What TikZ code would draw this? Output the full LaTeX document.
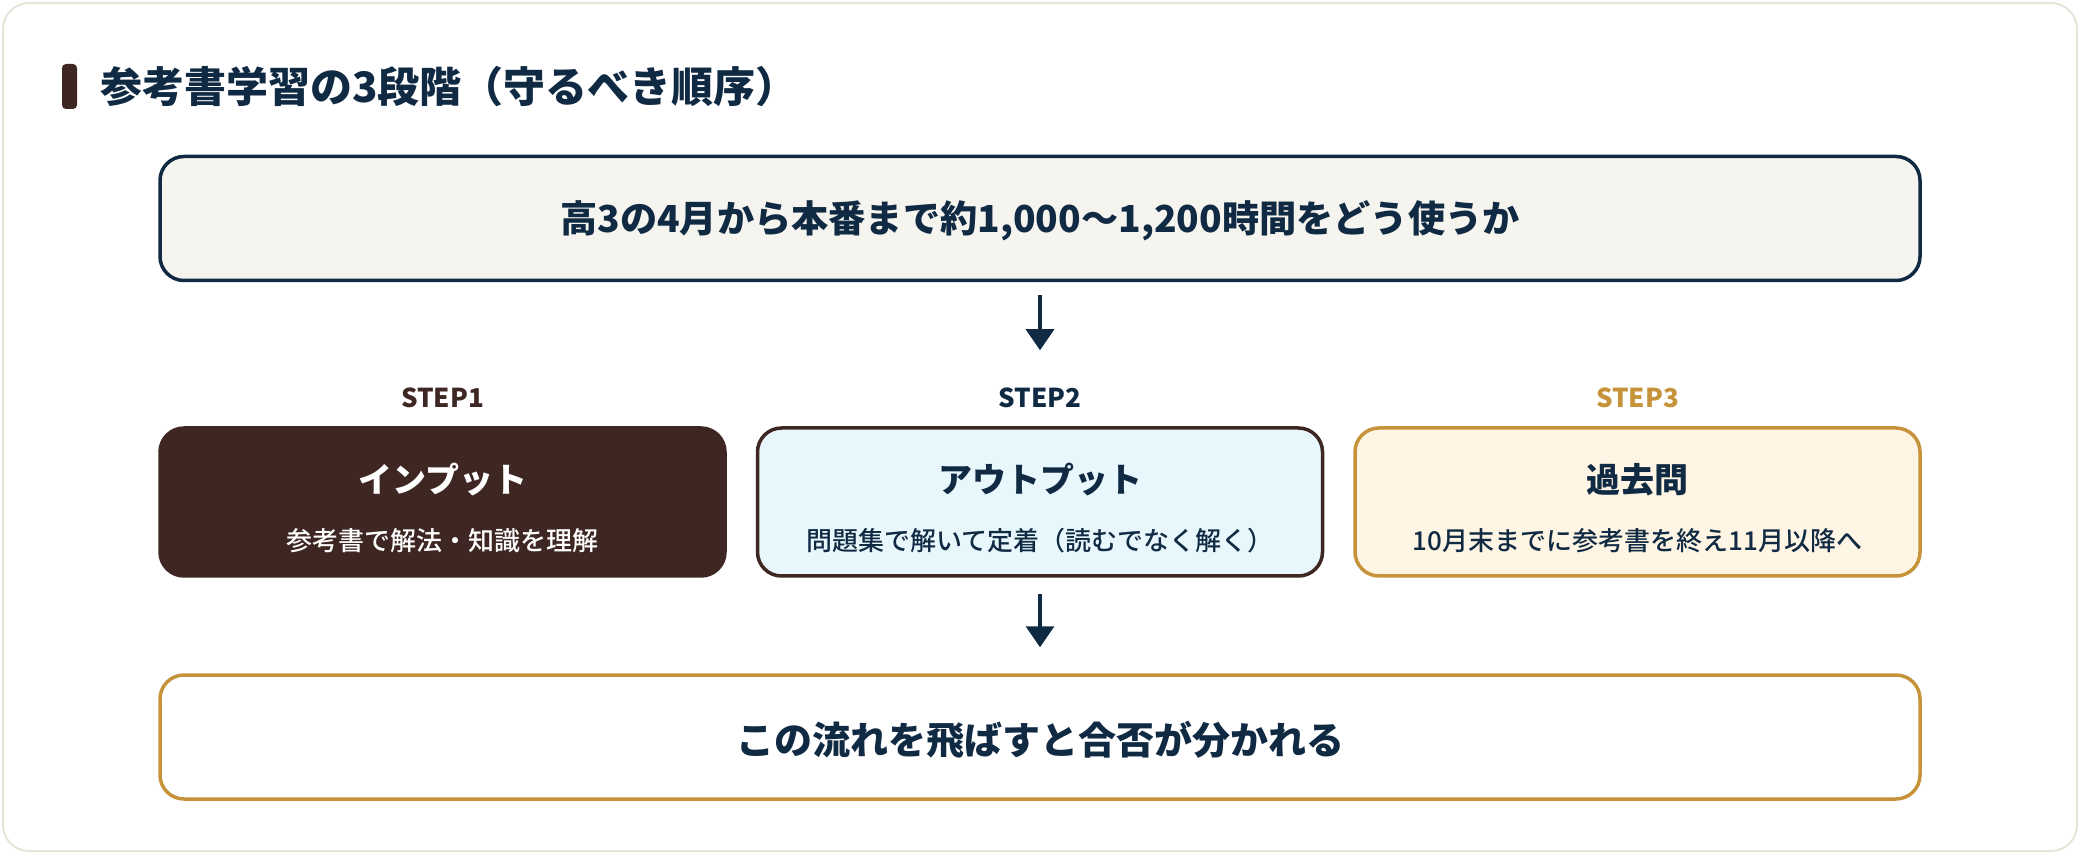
\documentclass[tikz,border=0pt]{standalone}
\usepackage{fontspec}
\setmainfont{Noto Sans CJK JP}
\newfontfamily\medfont{Noto Sans CJK JP Medium}
\usetikzlibrary{arrows.meta}
\definecolor{navy}{HTML}{102A43}
\definecolor{cocoa}{HTML}{3E2723}
\definecolor{gold}{HTML}{C6933A}
\definecolor{paper}{HTML}{F5F4EF}
\definecolor{ice}{HTML}{E8F7FC}
\definecolor{cream}{HTML}{FFF5E4}
\definecolor{cardline}{HTML}{E6E3D7}
\begin{document}
\begin{tikzpicture}[x=0.5pt,y=-0.5pt,
  box/.style={draw=#1,line width=1.75pt,rounded corners=12pt,inner sep=0pt},
  widebox/.style={box=#1,minimum width=880pt,minimum height=62pt},
  stepbox/.style={box=#1,minimum width=282.5pt,minimum height=74pt},
  steplabel/.style={text=#1,inner sep=0pt,font=\bfseries\fontsize{13}{15}\selectfont},
  steptitle/.style={text=#1,inner sep=0pt,font=\bfseries\fontsize{17}{20}\selectfont},
  stepnote/.style={text=#1,inner sep=0pt,font=\medfont\fontsize{13}{16}\selectfont},
  arr/.style={draw=navy,line width=1.75pt,-{Triangle[length=10.5pt,width=14pt]}}]
\useasboundingbox (0,0) rectangle (2080,854);
% card
\draw[draw=cardline,fill=white,line width=1pt,rounded corners=13pt] (3,3) rectangle (2077,851);
\fill[cocoa,rounded corners=2pt] (62,64) rectangle (77,109);
\node[anchor=west,inner sep=0pt,text=navy,font=\bfseries\fontsize{21}{25}\selectfont] (ttl) at (100,87) {参考書学習の3段階（守るべき順序）};
% top
\node[widebox=navy,fill=paper] (hours) at (1040,218.5) {};
\node[text=navy,inner sep=0pt,font=\bfseries\fontsize{18.6}{22}\selectfont] (hourst) at (1040,221) {高3の4月から本番まで約1,000〜1,200時間をどう使うか};
% steps
\node[steplabel=cocoa] (lab1) at (442.5,398) {STEP1};
\node[steplabel=navy] (lab2) at (1040,398) {STEP2};
\node[steplabel=gold] (lab3) at (1637.5,398) {STEP3};
\node[stepbox=cocoa,fill=cocoa] (s1) at (442.5,502) {};
\node[stepbox=cocoa,fill=ice] (s2) at (1040,502) {};
\node[stepbox=gold,fill=cream] (s3) at (1637.5,502) {};
\node[steptitle=white] (s1t) at (442.5,480) {インプット};
\node[stepnote=white] (s1n) at (442.5,541) {参考書で解法・知識を理解};
\node[steptitle=navy] (s2t) at (1040,480) {アウトプット};
\node[stepnote=navy] (s2n) at (1040,541) {問題集で解いて定着（読むでなく解く）};
\node[steptitle=navy] (s3t) at (1637.5,480) {過去問};
\node[stepnote=navy] (s3n) at (1637.5,541) {10月末までに参考書を終え11月以降へ};
% bottom
\node[widebox=gold,fill=white] (gate) at (1040,737) {};
\node[text=navy,inner sep=0pt,font=\bfseries\fontsize{19}{23}\selectfont] (gatet) at (1040,740) {この流れを飛ばすと合否が分かれる};
% arrows
\draw[arr,shorten <=6.5pt,shorten >=38pt] (hours.south) -- (s2.north);
\draw[arr,shorten <=8pt,shorten >=13pt] (s2.south) -- (gate.north);
\end{tikzpicture}
\end{document}
